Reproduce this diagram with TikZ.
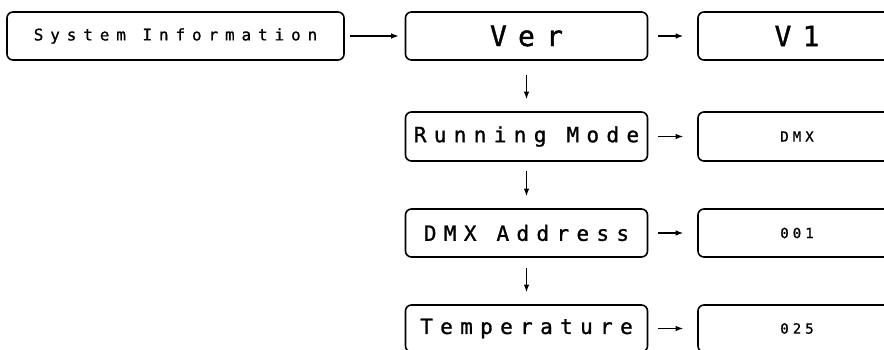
\documentclass[tikz,border=0pt]{standalone}
\usepackage{fontspec}
\usetikzlibrary{arrows.meta}
\newfontfamily\lcdsys[LetterSpace=43,FakeBold=1]{DejaVu Sans Mono}
\newfontfamily\lcdbig[LetterSpace=40,FakeBold=1.2]{DejaVu Sans Mono}
\newfontfamily\lcdmid[LetterSpace=35,FakeBold=1.2]{DejaVu Sans Mono}
\newfontfamily\lcdsmall[LetterSpace=29,FakeBold=1]{DejaVu Sans Mono}
\begin{document}
\begin{tikzpicture}[x=1pt,y=-1pt,
  box/.style={draw, line width=1.6pt, rounded corners=6pt, minimum height=48pt, inner sep=0pt, anchor=center},
  leftbox/.style={box, minimum width=242pt},
  rightbox/.style={box, minimum width=198pt},
  arr/.style={line width=1.2pt, -{Latex[length=7.5pt,width=5.5pt]}},
  fsys/.style={font=\lcdsys\fontsize{16}{18}\selectfont},
  fbig/.style={font=\lcdbig\fontsize{28}{30}\selectfont},
  fmid/.style={font=\lcdmid\fontsize{21}{24}\selectfont},
  fsmall/.style={font=\lcdsmall\fontsize{14}{16}\selectfont}]
\useasboundingbox (0,0) rectangle (884,350);
\node[box, minimum width=337pt, fsys] (sys) at (175.5,36) {System Information};
\node[leftbox, fbig] (ver) at (526.5,36) {Ver};
\node[rightbox, fbig] (v1) at (797,36) {V1};
\node[leftbox, minimum height=49pt, fmid] (run) at (526.5,136.5) {Running Mode};
\node[rightbox, minimum height=49pt, fsmall] (dmx) at (797,136.5) {DMX};
\node[leftbox, fmid] (addr) at (526.5,233) {DMX Address};
\node[rightbox, fsmall] (addrv) at (797,233) {001};
\node[leftbox, minimum height=47pt, fmid] (temp) at (526.5,328.5) {Temperature};
\node[rightbox, minimum height=47pt, fsmall] (tempv) at (797,328.5) {025};
\draw[arr, shorten <=5pt, shorten >=6pt] (sys) -- (ver);
\draw[arr, shorten <=10pt, shorten >=14pt] (ver) -- (v1);
\draw[arr, shorten <=10pt, shorten >=14pt] (run) -- (dmx);
\draw[arr, shorten <=10pt, shorten >=14pt] (addr) -- (addrv);
\draw[arr, shorten <=10pt, shorten >=14pt] (temp) -- (tempv);
\draw[arr, shorten <=14pt, shorten >=12pt] (ver) -- (run);
\draw[arr, shorten <=9pt, shorten >=12pt] (run) -- (addr);
\draw[arr, shorten <=10pt, shorten >=12pt] (addr) -- (temp);
\end{tikzpicture}
\end{document}
